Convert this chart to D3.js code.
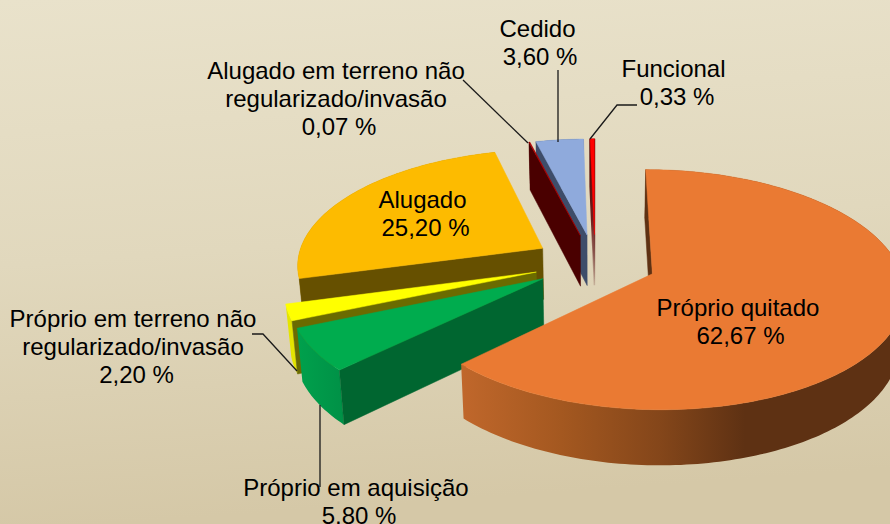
<!DOCTYPE html>
<html>
<head>
<meta charset="utf-8">
<script src="https://cdn.jsdelivr.net/npm/d3@7"></script>
<style>
    html, body { margin: 0; padding: 0; background: #e0d7bc; }
    svg { display: block; }
    text { font-family: "Liberation Sans", Arial, sans-serif; font-size: 24px; fill: #000; }
</style>
</head>
<body>
<svg id="chart" width="890" height="524"></svg>
<script>
// chart data
const categories = ["Próprio quitado", "Próprio em aquisição", "Próprio em terreno não regularizado/invasão",
    "Alugado", "Alugado em terreno não regularizado/invasão", "Cedido", "Funcional"];
const shares = [62.67, 5.80, 2.20, 25.20, 0.07, 3.60, 0.33];

// colours of each slice, same order as categories
const topColors = ["#ea7a33", "#00ac4e", "#ffff00", "#fdbb00", "#b00000", "#8faadc", "#ff0000"];
const radialWallColors = ["#5e3113", "#006630", "#6b6b00", "#665000", "#4a0000", "#3e4d6a", "url(#functionalWall)"];
const outerWallColors = ["url(#orangeWall)", "url(#greenWall)", "#e4e400", "#b08200", "#4a0000", "#3e4d6a", "#5c0000"];
const radialWallStrokes = [0.5, 0.5, 0.5, 0.5, 0.5, 0.5, 1.5];

// back to front, the orange slice overlaps the green wall
const drawOrder = [6, 5, 4, 3, 2, 1, 0];

// label placement: centre x, first baseline, value x, one entry per line of text
const labelBlocks = [
    {lines: ["Próprio quitado"], x: 738, y: 316, valueX: 740.5},
    {lines: ["Próprio em aquisição"], x: 356, y: 496, valueX: 359},
    {lines: ["Próprio em terreno não", "regularizado/invasão"], x: 133, y: 327, valueX: 136.5},
    {lines: ["Alugado"], x: 422.5, y: 208, valueX: 425.5},
    {lines: ["Alugado em terreno não", "regularizado/invasão"], x: 336, y: 79, valueX: 339},
    {lines: ["Cedido"], x: 537.5, y: 37, valueX: 540},
    {lines: ["Funcional"], x: 673.5, y: 77, valueX: 677}
];

// leader lines from label to slice
const leaders = [
    [[320, 405], [320, 487]],
    [[252, 334], [263, 334], [297, 371]],
    [[463, 80], [528, 143]],
    [[558, 70], [558, 142]],
    [[637, 105], [617, 105], [590, 139]]
];

const width = 890, height = 524;
const centerX = 595, centerY = 262.5;
const perspective = 0.13;      // how quickly the far side of the disc shrinks
const explode = 0.25;          // slice offset, in radii
const wallDepth = 51.5;        // height of the pie at the centre
const bottomShrink = 0.982;    // bottom face sits further from the camera

const radiusX = d3.scaleLinear().domain([0, 1]).range([0, 246]);
const radiusY = d3.scaleLinear().domain([0, 1]).range([0, 115]);

// ground coordinates (x to the right, v going away) to screen
function project(x, v) {
    const w = 1 + perspective * v;
    return {x: centerX + radiusX(x) / w, y: centerY - radiusY(v) / w, w: w};
}
function lower(p) {
    return {x: centerX + (p.x - centerX) * bottomShrink, y: p.y + wallDepth / Math.sqrt(p.w)};
}

const svg = d3.select("#chart");
const defs = svg.append("defs");

function addGradient(id, attrs, stops) {
    const g = defs.append("linearGradient").attr("id", id);
    Object.keys(attrs).forEach(function(k){ g.attr(k, attrs[k]); });
    stops.forEach(function(s){
        g.append("stop").attr("offset", s[0]).attr("stop-color", s[1]).attr("stop-opacity", s[2] === undefined ? 1 : s[2]);
    });
}

addGradient("background", {x1: 0, y1: 0, x2: 0.12, y2: 1},
    [[0, "#e9e2cb"], [0.5, "#e1d8bd"], [1, "#d5c8a7"]]);
addGradient("orangeWall", {gradientUnits: "userSpaceOnUse", x1: 462, y1: 0, x2: 745, y2: 0},
    [[0, "#c0672b"], [0.35, "#a45820"], [0.7, "#84461a"], [1, "#5e3113"]]);
addGradient("greenWall", {gradientUnits: "userSpaceOnUse", x1: 299, y1: 0, x2: 346, y2: 0},
    [[0, "#00a04c"], [1, "#009046"]]);
addGradient("functionalWall", {x1: 0, y1: 0, x2: 0, y2: 1},
    [[0, "#4a0000"], [0.55, "#6b2020"], [1, "#8a5a50", 0.15]]);

svg.append("rect").attr("width", width).attr("height", height).attr("fill", "url(#background)");

const slices = d3.pie().sort(null).value(function(d){ return d; })(shares);
const line = d3.line().x(function(d){ return d.x; }).y(function(d){ return d.y; });

// camera position on the ground plane, used to find out which walls face us
const cameraV = -1 / perspective;

function drawSlice(i){
    const s = slices[i];
    const mid = (s.startAngle + s.endAngle) / 2;
    const apexX = explode * Math.sin(mid), apexV = explode * Math.cos(mid);
    const apex = project(apexX, apexV);

    const steps = Math.max(2, Math.ceil((s.endAngle - s.startAngle) / 0.02));
    const rim = d3.range(steps + 1).map(function(k){
        const a = s.startAngle + (s.endAngle - s.startAngle) * k / steps;
        return project(apexX + Math.sin(a), apexV + Math.cos(a));
    });

    const g = svg.append("g").attr("class", "slice");

    // outer curved wall first, the top face hides whatever part of it faces away
    g.append("path")
        .attr("d", line(rim.concat(rim.slice().reverse().map(lower))) + "Z")
        .attr("fill", outerWallColors[i]);

    // radial walls, only when they face the camera
    const startFacing = -Math.cos(s.startAngle) * (0 - apexX) + Math.sin(s.startAngle) * (cameraV - apexV);
    const endFacing = Math.cos(s.endAngle) * (0 - apexX) - Math.sin(s.endAngle) * (cameraV - apexV);
    if (startFacing > 0){
        g.append("path")
            .attr("d", line([apex, rim[0], lower(rim[0]), lower(apex)]) + "Z")
            .attr("fill", radialWallColors[i])
            .attr("stroke", radialWallColors[i])
            .attr("stroke-width", radialWallStrokes[i]);
    }
    if (endFacing > 0){
        g.append("path")
            .attr("d", line([apex, rim[steps], lower(rim[steps]), lower(apex)]) + "Z")
            .attr("fill", radialWallColors[i])
            .attr("stroke", radialWallColors[i])
            .attr("stroke-width", radialWallStrokes[i]);
    }

    g.append("path")
        .attr("d", line([apex].concat(rim)) + "Z")
        .attr("fill", topColors[i])
        .attr("stroke", topColors[i])
        .attr("stroke-width", 0.5);
}

drawOrder.forEach(drawSlice);

// leader lines
svg.append("g").selectAll("path")
    .data(leaders)
    .join("path")
    .attr("d", function(d){ return d3.line()(d); })
    .attr("fill", "none")
    .attr("stroke", "#1a1a1a")
    .attr("stroke-width", 1.3);

// labels, value goes on the last line
const formatShare = function(v){ return v.toFixed(2).replace(".", ",") + " %"; };
const lineHeight = 28;

labelBlocks.forEach(function(b, i){
    const g = svg.append("g").attr("class", "label").attr("data-name", categories[i]);
    g.selectAll("text.name")
        .data(b.lines)
        .join("text")
        .attr("class", "name")
        .attr("x", b.x)
        .attr("y", function(d, k){ return b.y + k * lineHeight; })
        .attr("text-anchor", "middle")
        .text(function(d){ return d; });
    g.append("text")
        .attr("x", b.valueX)
        .attr("y", b.y + b.lines.length * lineHeight)
        .attr("text-anchor", "middle")
        .text(formatShare(shares[i]));
});
</script>
</body>
</html>
